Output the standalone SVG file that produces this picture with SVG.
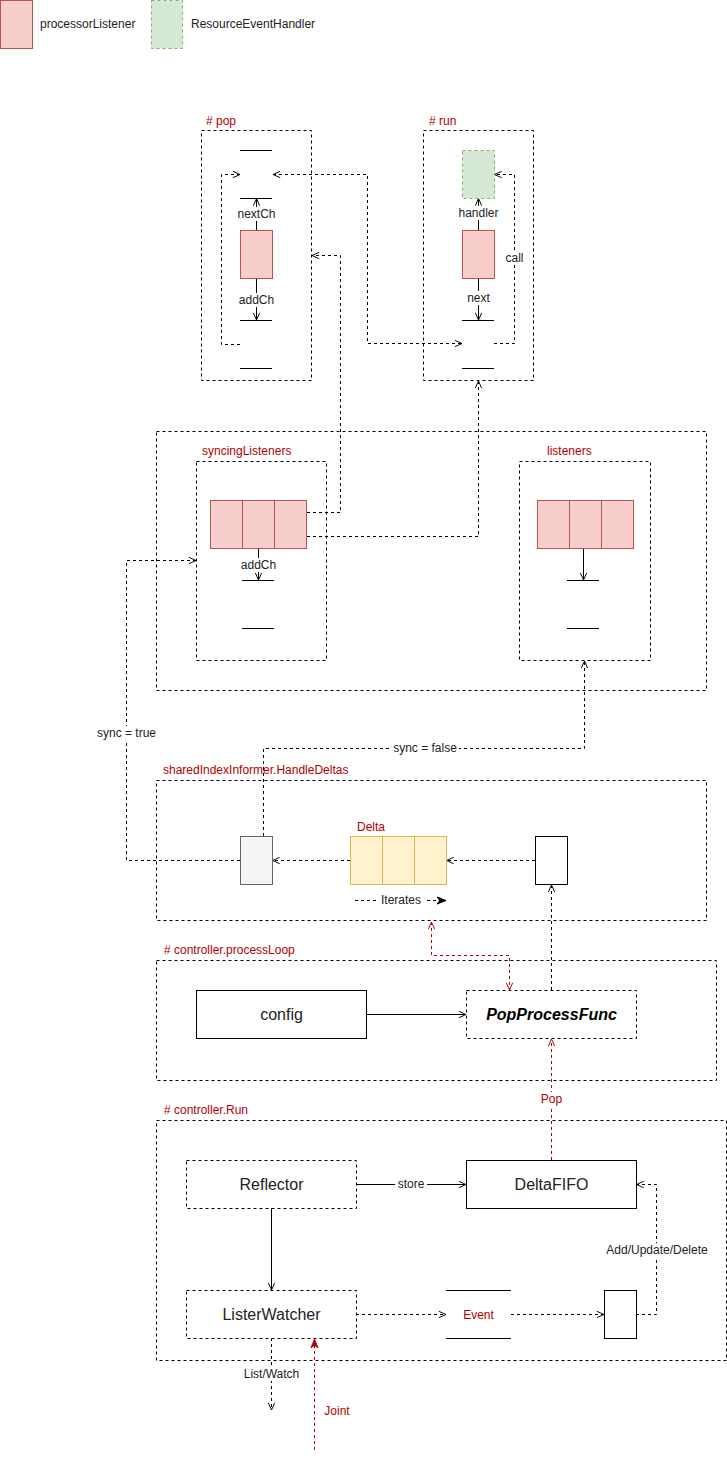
<svg xmlns="http://www.w3.org/2000/svg" width="727" height="1459" viewBox="0 0 727 1459">
<style>
text{font-family:"Liberation Sans",Arial,sans-serif;}
.t{font-size:12px;fill:#B20000;}
.l{font-size:12px;fill:#222;text-anchor:middle;dominant-baseline:central;}
.lg{font-size:12px;fill:#222;dominant-baseline:central;}
.big{font-size:16px;fill:#222;text-anchor:middle;dominant-baseline:central;}
.c{fill:none;stroke:#000;stroke-width:1;stroke-dasharray:3 3;}
.e{fill:none;stroke:#000;stroke-width:1;}
.ed{fill:none;stroke:#000;stroke-width:1;stroke-dasharray:3 3;}
.er{fill:none;stroke:#B20000;stroke-width:1;stroke-dasharray:3 3;}
.red{fill:#f8cecc;stroke:#b85450;stroke-width:1;}
.grn{fill:#d5e8d4;stroke:#82b366;stroke-width:1;stroke-dasharray:3 3;}
.yel{fill:#fff2cc;stroke:#d6b656;stroke-width:1;}
.bar{stroke:#000;stroke-width:1;}
.bg{fill:#fff;}
</style>
<defs>
<marker id="o" viewBox="0 0 10 10" refX="10" refY="5" markerWidth="8" markerHeight="8" orient="auto-start-reverse" markerUnits="userSpaceOnUse"><path d="M1,1 L10,5 L1,9" fill="none" stroke="#000" stroke-width="1.2"/></marker>
<marker id="or" viewBox="0 0 10 10" refX="10" refY="5" markerWidth="8" markerHeight="8" orient="auto-start-reverse" markerUnits="userSpaceOnUse"><path d="M1,1 L10,5 L1,9" fill="none" stroke="#B20000" stroke-width="1.2"/></marker>
<marker id="f" viewBox="0 0 10 10" refX="10" refY="5" markerWidth="9" markerHeight="9" orient="auto" markerUnits="userSpaceOnUse"><path d="M0,1 L10,5 L0,9 L3,5 Z" fill="#000" stroke="#000" stroke-width="1"/></marker>
<marker id="fr" viewBox="0 0 10 10" refX="10" refY="5" markerWidth="9" markerHeight="9" orient="auto" markerUnits="userSpaceOnUse"><path d="M0,1 L10,5 L0,9 L3,5 Z" fill="#B20000" stroke="#B20000" stroke-width="1"/></marker>
</defs>
<rect width="727" height="1459" fill="#fff"/>

<g id="legend">
<rect class="red" x="0.5" y="0.5" width="32" height="48"/>
<text class="lg" x="40" y="24">processorListener</text>
<rect class="grn" x="151.5" y="0.5" width="31" height="48"/>
<text class="lg" x="191" y="24">ResourceEventHandler</text>
</g>

<g id="containers">
<g id="pop"><rect class="c" x="201.5" y="130.5" width="110" height="250"/><text class="t" x="206" y="125">#&#160;pop</text></g>
<g id="run"><rect class="c" x="423.5" y="130.5" width="110" height="250"/><text class="t" x="429" y="125">#&#160;run</text></g>
<g id="sharedProcessor"><rect class="c" x="156.5" y="431.5" width="550" height="259"/></g>
<g id="syncingListeners"><rect class="c" x="196.5" y="461.5" width="130" height="199"/><text class="t" x="202" y="455">syncingListeners</text></g>
<g id="listeners"><rect class="c" x="519.5" y="461.5" width="131" height="199"/><text class="t" x="547" y="455">listeners</text></g>
<g id="handleDeltas"><rect class="c" x="156.5" y="780.5" width="550" height="140"/><text class="t" x="163" y="774">sharedIndexInformer.HandleDeltas</text></g>
<g id="processLoop"><rect class="c" x="156.5" y="960.5" width="560" height="120"/><text class="t" x="164" y="954"># controller.processLoop</text></g>
<g id="controllerRun"><rect class="c" x="156.5" y="1120.5" width="570" height="240"/><text class="t" x="164" y="1114"># controller.Run</text></g>
</g>

<g id="connectors">
<path class="e" d="M256.5,230 V198.5" marker-end="url(#o)"/>
<path class="e" d="M256.5,278 V320" marker-end="url(#o)"/>
<path class="ed" d="M240,344.5 H221.5 V174.5 H240" marker-end="url(#o)"/>
<path class="ed" d="M273,174.5 H367.5 V343.5 H462" marker-start="url(#o)" marker-end="url(#o)"/>
<path class="e" d="M478.5,230 V198.5" marker-end="url(#o)"/>
<path class="e" d="M478.5,278 V320" marker-end="url(#o)"/>
<path class="ed" d="M494,343.5 H514.5 V174.5 H494.5" marker-end="url(#o)"/>
<path class="ed" d="M307,512.5 H340.5 V255.5 H312" marker-end="url(#o)"/>
<path class="ed" d="M307,536.5 H478.5 V381" marker-end="url(#o)"/>
<path class="e" d="M258.5,548 V580" marker-end="url(#o)"/>
<path class="e" d="M583.5,548 V580" marker-end="url(#o)"/>
<path class="ed" d="M240,860.5 H126.5 V560.5 H196" marker-end="url(#o)"/>
<path class="ed" d="M263.5,836 V748.5 H584.5 V661" marker-end="url(#o)"/>
<path class="ed" d="M535,860.5 H446.5" marker-end="url(#o)"/>
<path class="ed" d="M350,860.5 H272.5" marker-end="url(#o)"/>
<path class="ed" d="M355,900.5 H446" marker-end="url(#f)"/>
<path class="ed" d="M551.5,990 V885" marker-end="url(#o)"/>
<path class="er" d="M431.5,922 V955.5 H509.5 V990" marker-start="url(#or)" marker-end="url(#or)"/>
<path class="e" d="M366,1014.5 H466" marker-end="url(#o)"/>
<path class="er" d="M551.5,1160 V1039" marker-end="url(#or)"/>
<path class="e" d="M356,1184.5 H466" marker-end="url(#o)"/>
<path class="e" d="M271.5,1208 V1290" marker-end="url(#o)"/>
<path class="ed" d="M356,1314.5 H446" marker-end="url(#o)"/>
<path class="ed" d="M511,1314.5 H604" marker-end="url(#o)"/>
<path class="ed" d="M636,1314.5 H656.5 V1184.5 H636.5" marker-end="url(#o)"/>
<path class="ed" d="M271.5,1338 V1410" marker-end="url(#o)"/>
<path class="er" d="M314.5,1450 V1339" marker-end="url(#fr)"/>

<rect class="bg" x="235" y="207" width="43" height="14"/><text class="l" x="256.5" y="214">nextCh</text>
<rect class="bg" x="236" y="293" width="41" height="14"/><text class="l" x="256.5" y="300">addCh</text>
<rect class="bg" x="455" y="206" width="47" height="14"/><text class="l" x="478.5" y="213">handler</text>
<rect class="bg" x="463" y="291" width="31" height="14"/><text class="l" x="478.5" y="298">next</text>
<rect class="bg" x="502" y="251" width="25" height="14"/><text class="l" x="514.5" y="258">call</text>
<rect class="bg" x="238" y="558" width="41" height="14"/><text class="l" x="258.5" y="565">addCh</text>
<rect class="bg" x="95" y="726" width="63" height="14"/><text class="l" x="126.5" y="733">sync = true</text>
<rect class="bg" x="391" y="741" width="68" height="14"/><text class="l" x="425" y="748">sync = false</text>
<rect class="bg" x="378" y="893" width="46" height="14"/><text class="l" x="401" y="900">Iterates</text>
<rect class="bg" x="537" y="1092" width="29" height="14"/><text class="l" x="551.5" y="1099" style="fill:#B20000">Pop</text>
<rect class="bg" x="395" y="1177" width="32" height="14"/><text class="l" x="411" y="1184">store</text>
<rect class="bg" x="601" y="1243" width="112" height="14"/><text class="l" x="657" y="1250">Add/Update/Delete</text>
<rect class="bg" x="240" y="1367" width="63" height="14"/><text class="l" x="271.5" y="1374">List/Watch</text>
<text class="l" x="337" y="1411" style="fill:#B20000">Joint</text>
</g>

<g id="popNodes">
<g id="popNextCh"><line class="bar" x1="240" y1="150.5" x2="272" y2="150.5"/><line class="bar" x1="240" y1="198.5" x2="272" y2="198.5"/></g>
<g id="popListener"><rect class="red" x="240.5" y="230.5" width="32" height="48"/></g>
<g id="popAddCh"><line class="bar" x1="240" y1="320.5" x2="272" y2="320.5"/><line class="bar" x1="240" y1="368.5" x2="272" y2="368.5"/></g>
</g>

<g id="runNodes">
<g id="runHandler"><rect class="grn" x="462.5" y="150.5" width="32" height="48"/></g>
<g id="runListener"><rect class="red" x="462.5" y="230.5" width="32" height="48"/></g>
<g id="runNext"><line class="bar" x1="462" y1="320.5" x2="494" y2="320.5"/><line class="bar" x1="462" y1="368.5" x2="494" y2="368.5"/></g>
</g>

<g id="syncingNodes">
<g id="syncArray"><rect class="red" x="210.5" y="500.5" width="32" height="48"/><rect class="red" x="242.5" y="500.5" width="32" height="48"/><rect class="red" x="274.5" y="500.5" width="32" height="48"/></g>
<g id="syncAddCh"><line class="bar" x1="242" y1="580.5" x2="274" y2="580.5"/><line class="bar" x1="242" y1="628.5" x2="274" y2="628.5"/></g>
</g>

<g id="listenerNodes">
<g id="listArray"><rect class="red" x="537.5" y="500.5" width="32" height="48"/><rect class="red" x="569.5" y="500.5" width="32" height="48"/><rect class="red" x="601.5" y="500.5" width="32" height="48"/></g>
<g id="listChan"><line class="bar" x1="567" y1="580.5" x2="599" y2="580.5"/><line class="bar" x1="567" y1="628.5" x2="599" y2="628.5"/></g>
</g>

<g id="deltaNodes">
<g id="distribute"><rect x="240.5" y="836.5" width="32" height="48" fill="#f5f5f5" stroke="#666"/></g>
<g id="delta"><rect class="yel" x="350.5" y="836.5" width="32" height="48"/><rect class="yel" x="382.5" y="836.5" width="32" height="48"/><rect class="yel" x="414.5" y="836.5" width="32" height="48"/><text class="t" x="357" y="831">Delta</text></g>
<g id="deltasIn"><rect x="535.5" y="836.5" width="32" height="48" fill="#fff" stroke="#000"/></g>
</g>

<g id="config"><rect x="196.5" y="990.5" width="170" height="48" fill="#fff" stroke="#000"/><text class="big" x="281.5" y="1014.5">config</text></g>
<g id="popProcessFunc"><rect class="c" x="466.5" y="990.5" width="170" height="48" style="fill:#fff"/><text class="big" x="551.5" y="1014.5" style="font-weight:bold;font-style:italic;fill:#000">PopProcessFunc</text></g>
<g id="reflector"><rect class="c" x="186.5" y="1160.5" width="170" height="48" style="fill:#fff"/><text class="big" x="271.5" y="1184.5">Reflector</text></g>
<g id="deltaFIFO"><rect x="466.5" y="1160.5" width="170" height="48" fill="#fff" stroke="#000"/><text class="big" x="551.5" y="1184.5">DeltaFIFO</text></g>
<g id="listerWatcher"><rect class="c" x="186.5" y="1290.5" width="170" height="48" style="fill:#fff"/><text class="big" x="271.5" y="1314.5">ListerWatcher</text></g>
<g id="event"><line class="bar" x1="446" y1="1290.5" x2="511" y2="1290.5"/><line class="bar" x1="446" y1="1338.5" x2="511" y2="1338.5"/><text class="l" x="478.5" y="1314.5" style="fill:#B20000">Event</text></g>
<g id="eventSink"><rect x="604.5" y="1290.5" width="32" height="48" fill="#fff" stroke="#000"/></g>
</svg>
